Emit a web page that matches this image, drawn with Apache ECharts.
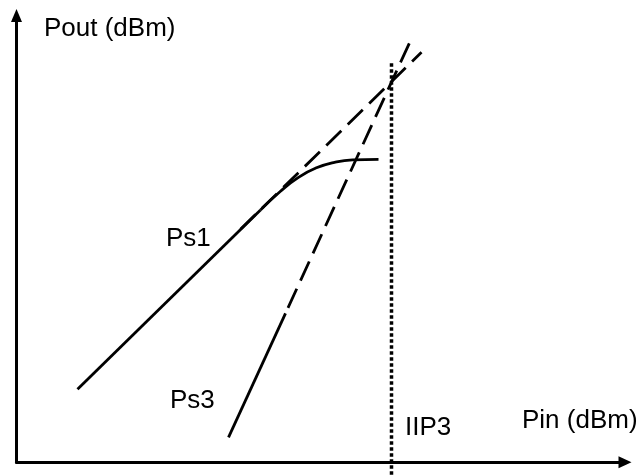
<!DOCTYPE html>
<html>
<head>
<meta charset="utf-8">
<script src="https://cdn.jsdelivr.net/npm/echarts@6/dist/echarts.min.js"></script>
<style>
  html, body { margin: 0; padding: 0; background: #fff; }
  #chart { width: 643px; height: 475px; }
</style>
</head>
<body>
<div id="chart"></div>
<script>
// Schematic values (arbitrary dB units, 0 = axis origin)
// Ps1: fundamental output, linear part
const ps1LinX = [6.1, 24.4];
const ps1LinY = [7.3, 25.24];
// Ps1: compression knee
const ps1KneeX = [24.4, 26.4, 28.2, 30.0, 31.8, 33.6, 36.2];
const ps1KneeY = [25.24, 27.1, 28.5, 29.45, 30.0, 30.25, 30.3];
// Ps1 extrapolation (dashed)
const ps1ExtX = [22.4, 40.5];
const ps1ExtY = [23.3, 41.0];
// Ps3: third-order product (solid part)
const ps3X = [21.2, 26.9];
const ps3Y = [2.5, 14.9];
// Ps3 extrapolation (dashed)
const ps3ExtX = [26.9, 39.6];
const ps3ExtY = [14.9, 42.6];
// IIP3 marker (vertical dotted line)
const iip3X = [37.5, 37.5];
const iip3Y = [39.9, -1.3];
// Text labels
const yAxisTitle = 'Pout (dBm)';
const xAxisTitle = 'Pin (dBm)';
const labelPs1 = 'Ps1';
const labelPs3 = 'Ps3';
const labelIIP3 = 'IIP3';

const zip = (xs, ys) => xs.map((x, i) => [x, ys[i]]);

const chart = echarts.init(document.getElementById('chart'), null, { renderer: 'canvas' });
const FONT = '"Liberation Sans", Arial, sans-serif';
const textStyle = (txt, x, y) => ({
  type: 'text', left: x, top: y,
  style: { text: txt, fill: '#000', font: '26px ' + FONT }
});

const option = {
  animation: false,
  backgroundColor: '#fff',
  grid: { left: 16.5, right: 18, top: 15.5, bottom: 12.7 },
  xAxis: {
    type: 'value', min: 0, max: 60.85,
    axisLine: { show: true, onZero: false, symbol: ['none', 'triangle'], symbolSize: [12, 13],
      lineStyle: { color: '#000', width: 3 } },
    axisTick: { show: false }, axisLabel: { show: false }, splitLine: { show: false }
  },
  yAxis: {
    type: 'value', min: 0, max: 44.68,
    axisLine: { show: true, onZero: false, symbol: ['none', 'triangle'], symbolSize: [11, 13],
      lineStyle: { color: '#000', width: 3 } },
    axisTick: { show: false }, axisLabel: { show: false }, splitLine: { show: false }
  },
  series: [
    { type: 'line', data: zip(ps1LinX, ps1LinY), showSymbol: false,
      lineStyle: { color: '#000', width: 2.8 }, clip: false },
    { type: 'line', data: zip(ps1KneeX, ps1KneeY), smooth: 0.5, showSymbol: false,
      lineStyle: { color: '#000', width: 2.8 }, clip: false },
    { type: 'line', data: zip(ps1ExtX, ps1ExtY), showSymbol: false,
      lineStyle: { color: '#000', width: 2.8, type: [21, 9] }, clip: false },
    { type: 'line', data: zip(ps3X, ps3Y), showSymbol: false,
      lineStyle: { color: '#000', width: 2.8 }, clip: false },
    { type: 'line', data: zip(ps3ExtX, ps3ExtY), showSymbol: false,
      lineStyle: { color: '#000', width: 2.8, type: [21, 9], dashOffset: -6 }, clip: false },
    { type: 'line', data: zip(iip3X, iip3Y), showSymbol: false,
      lineStyle: { color: '#000', width: 3.5, type: [3.5, 2.5] }, clip: false }
  ],
  graphic: [
    textStyle(yAxisTitle, 44, 16),
    textStyle(labelPs1, 166, 226),
    textStyle(labelPs3, 170, 388),
    textStyle(labelIIP3, 405, 415),
    textStyle(xAxisTitle, 522, 408)
  ]
};
chart.setOption(option);
</script>
</body>
</html>
